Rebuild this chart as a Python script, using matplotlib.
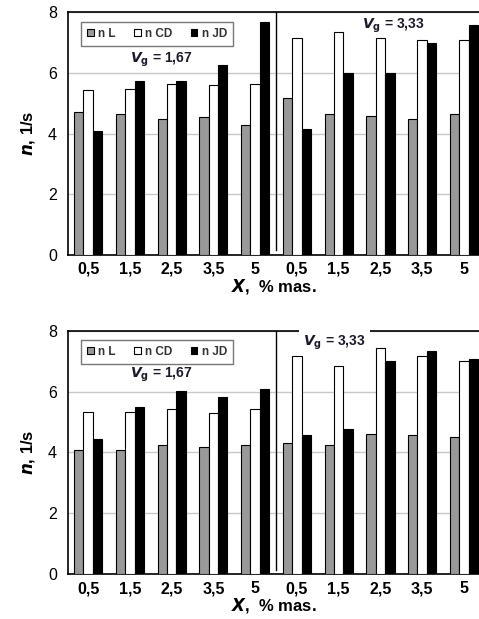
import numpy as np
import matplotlib.pyplot as plt

plt.rcParams['font.family'] = ['Liberation Sans', 'DejaVu Sans']

# data
x_labels = ['0,5', '1,5', '2,5', '3,5', '5', '0,5', '1,5', '2,5', '3,5', '5']
series = ['n L', 'n CD', 'n JD']

top_L = [4.72, 4.66, 4.49, 4.55, 4.28, 5.18, 4.66, 4.58, 4.49, 4.66]
top_CD = [5.43, 5.49, 5.65, 5.62, 5.65, 7.17, 7.34, 7.17, 7.09, 7.09]
top_JD = [4.08, 5.75, 5.75, 6.26, 7.68, 4.17, 6.01, 6.01, 7.00, 7.60]

bot_L = [4.08, 4.08, 4.26, 4.18, 4.26, 4.32, 4.26, 4.62, 4.57, 4.50]
bot_CD = [5.32, 5.32, 5.44, 5.30, 5.44, 7.17, 6.83, 7.42, 7.17, 7.00]
bot_JD = [4.43, 5.49, 6.01, 5.83, 6.08, 4.57, 4.76, 7.00, 7.34, 7.08]

colors = ['#999999', 'white', 'black']
W = 0.225


def panel(ax, vals, vg1_y, vg2_pos, vg2_y, vg2_bg):
    x = np.arange(len(x_labels))
    for i, v in enumerate(vals):
        ax.bar(x + (i - 1) * W, v, W, color=colors[i], edgecolor='black',
               linewidth=0.8, label=series[i], zorder=3)
    ax.set_xlim(-0.48, 9.36)
    ax.set_ylim(0, 8)
    ax.set_yticks([0, 2, 4, 6, 8])
    ax.yaxis.grid(True, color='#c8c8c8', linewidth=1.0, zorder=0)
    ax.set_axisbelow(True)
    ax.set_xticks(x)
    ax.set_xticklabels(x_labels, fontsize=11.5, fontweight='bold')
    ax.tick_params(axis='x', length=0, pad=5)
    ax.tick_params(axis='y', length=0, labelsize=11.5, pad=8)
    for s in ['left', 'bottom', 'top']:
        ax.spines[s].set_linewidth(1.2)
    ax.spines['right'].set_visible(False)
    ax.axvline(4.5, ymin=0.02, ymax=1, color='black', linewidth=1.0, zorder=4)
    ax.set_ylabel(r'$\mathbfit{n}$, 1/s', fontsize=12, fontweight='bold', labelpad=8)
    ax.set_xlabel(r'$\mathbfit{X}$,  % mas.', fontsize=12, fontweight='bold', labelpad=0)
    ax.text(1.75, vg1_y, r'$\mathbfit{V}_\mathbf{g}$ = 1,67', fontsize=10,
            fontweight='bold', ha='center', va='center', color='#1a1a2a', zorder=5)
    t = ax.text(vg2_pos, vg2_y, r'$\mathbfit{V}_\mathbf{g}$ = 3,33', fontsize=10,
                fontweight='bold', ha='center', va='center', color='#1a1a2a', zorder=5,
                clip_on=False)
    if vg2_bg:
        t.set_bbox(dict(facecolor='white', edgecolor='none', pad=3))
    leg = ax.legend(ncol=3, loc='upper left', bbox_to_anchor=(0.018, 0.985),
                    prop={'weight': 'bold', 'size': 8.5},
                    handlelength=0.55, handleheight=0.55, handletextpad=0.35,
                    columnspacing=1.6, borderpad=0.5, fancybox=False,
                    edgecolor='#777777', framealpha=1)
    leg.get_frame().set_linewidth(1.0)
    for txt in leg.get_texts():
        txt.set_color('#333333')


fig = plt.figure(figsize=(4.79, 6.19), dpi=100)
ax1 = fig.add_axes([0.142, 0.588, 0.858, 0.392])
ax2 = fig.add_axes([0.142, 0.072, 0.858, 0.394])

panel(ax1, [top_L, top_CD, top_JD], 6.42, 7.3, 7.56, False)
panel(ax2, [bot_L, bot_CD, bot_JD], 6.55, 5.9, 7.6, True)

fig.savefig('out.png', dpi=100)
